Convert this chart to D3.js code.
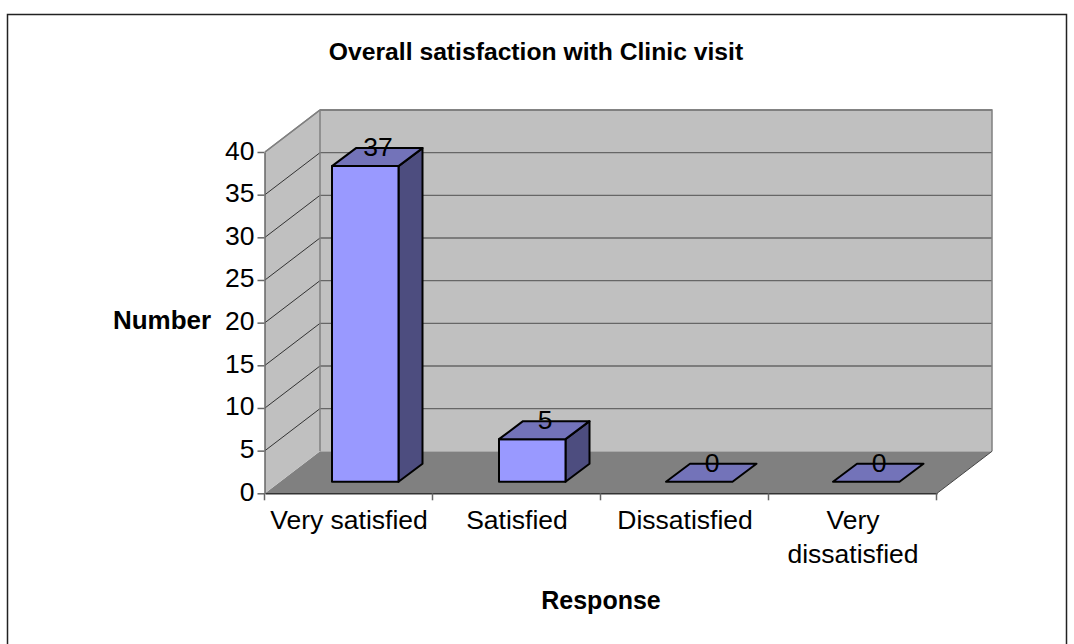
<!DOCTYPE html>
<html><head><meta charset="utf-8">
<style>html,body{margin:0;padding:0;background:#fff}svg{display:block}text{font-family:"Liberation Sans",Arial,sans-serif;fill:#000}</style>
<script src="https://cdn.jsdelivr.net/npm/d3@7"></script></head>
<body><svg id="c" width="1074" height="644"></svg>
<script>
const categories = [["Very satisfied"],["Satisfied"],["Dissatisfied"],["Very","dissatisfied"]];
const categoryKeys = ["Very satisfied","Satisfied","Dissatisfied","Very dissatisfied"];
const values = [37,5,0,0];
const yTicks = [0,5,10,15,20,25,30,35,40];
const titleText = "Overall satisfaction with Clinic visit";
const xTitle = "Response";
const yTitle = "Number";

const svg = d3.select("#c");
svg.append("path").attr("d","M7.5,644V14.5H1066.5V644").attr("fill","none").attr("stroke","#222").attr("stroke-width",1.5);

const y = d3.scaleLinear().domain([0,40]).range([493.3,152]);
const x = d3.scaleBand().domain(categoryKeys).range([265,937]);
const barX = d3.scalePoint().domain(categoryKeys).range([332,833]);
const dx = 55, dy = -42, bw = 66.5, bdx = 24, bdy = -18, lift = 11.5, fs = 26.5;
const y0 = y(0), yT = y(40), xL = 265, xR = 937;
const poly = pts => "M" + pts.map(p=>p.join(",")).join("L") + "Z";

svg.append("path").attr("d",poly([[xL,y0],[xL+dx,y0+dy],[xR+dx,y0+dy],[xR,y0]])).attr("fill","#808080");
svg.append("path").attr("d",poly([[xL,y0],[xL,yT],[xL+dx,yT+dy],[xL+dx,y0+dy]])).attr("fill","#c0c0c0");
svg.append("rect").attr("x",xL+dx).attr("y",yT+dy).attr("width",xR-xL).attr("height",y0-yT).attr("fill","#c0c0c0");

svg.selectAll(".gb").data(yTicks.slice(1)).join("line")
  .attr("x1",xL+dx).attr("x2",xR+dx).attr("y1",d=>y(d)+dy).attr("y2",d=>y(d)+dy)
  .attr("stroke","#666").attr("stroke-width",1.3);
svg.selectAll(".gs").data(yTicks.slice(1)).join("line")
  .attr("x1",xL).attr("x2",xL+dx).attr("y1",d=>y(d)).attr("y2",d=>y(d)+dy)
  .attr("stroke",d=>d===40?"#808080":"#222").attr("stroke-width",d=>d===40?1.5:0.9);

svg.append("path").attr("d",`M${xL},${yT}L${xL+dx},${yT+dy}H${xR+dx}V${y0+dy}`).attr("fill","none").attr("stroke","#808080").attr("stroke-width",1.5);
svg.append("line").attr("x1",xL+dx).attr("x2",xL+dx).attr("y1",yT+dy).attr("y2",y0+dy).attr("stroke","#808080").attr("stroke-width",1.5);
svg.append("line").attr("x1",xR).attr("x2",xR+dx).attr("y1",y0).attr("y2",y0+dy).attr("stroke","#444").attr("stroke-width",1);

const base = y0 - lift;
const bars = svg.append("g").attr("stroke","#000").attr("stroke-width",2).attr("stroke-linejoin","round");
const labels = [];
categoryKeys.forEach((c,i)=>{
  const xa = barX(c), h = y0 - y(values[i]), t = base - h;
  if (h > 0) {
    bars.append("path").attr("d",poly([[xa+bw,base],[xa+bw+bdx,base+bdy],[xa+bw+bdx,t+bdy],[xa+bw,t]])).attr("fill","#4d4d7f");
    bars.append("rect").attr("x",xa).attr("y",t).attr("width",bw).attr("height",h).attr("fill","#9999ff");
  }
  bars.append("path").attr("d",poly([[xa,t],[xa+bdx,t+bdy],[xa+bw+bdx,t+bdy],[xa+bw,t]])).attr("fill","#7373b9");
  labels.push({x:xa+46, y:t+bdy+8, v:values[i]});
});
svg.selectAll(".dl").data(labels).join("text").attr("x",d=>d.x).attr("y",d=>d.y).attr("text-anchor","middle").attr("font-size",fs).text(d=>d.v);

const gy = svg.append("g").attr("transform",`translate(${xL-0.5},0)`).call(d3.axisLeft(y).tickValues(yTicks).tickSize(7).tickSizeOuter(0).tickPadding(3));
gy.select(".domain").attr("stroke","#666").attr("stroke-width",1.5);
gy.selectAll("line").attr("stroke","#666").attr("stroke-width",1.5);
gy.selectAll("text").attr("font-size",fs).attr("font-family",'"Liberation Sans"').attr("fill","#000").attr("dy","7px");
const gx = svg.append("g").attr("transform",`translate(0,${y0})`).call(d3.axisBottom(x).tickValues([]).tickSize(0));
gx.select(".domain").attr("stroke","#333").attr("stroke-width",1.5);
svg.selectAll(".xt").data(d3.range(5)).join("line")
  .attr("x1",i=>xL+i*x.step()-0.5).attr("x2",i=>xL+i*x.step()-0.5).attr("y1",y0).attr("y2",y0+7)
  .attr("stroke","#666").attr("stroke-width",1.5);

categories.forEach((lines,i)=>{
  const cx = x(categoryKeys[i]) + x.bandwidth()/2;
  lines.forEach((l,j)=>svg.append("text").attr("x",cx).attr("y",529+j*34).attr("text-anchor","middle").attr("font-size",fs).text(l));
});

svg.append("text").attr("x",536).attr("y",60).attr("text-anchor","middle").attr("font-size",24.7).attr("font-weight","bold").text(titleText);
svg.append("text").attr("x",601).attr("y",609).attr("text-anchor","middle").attr("font-size",25).attr("font-weight","bold").text(xTitle);
svg.append("text").attr("x",162).attr("y",329).attr("text-anchor","middle").attr("font-size",26).attr("font-weight","bold").text(yTitle);
</script></body></html>
